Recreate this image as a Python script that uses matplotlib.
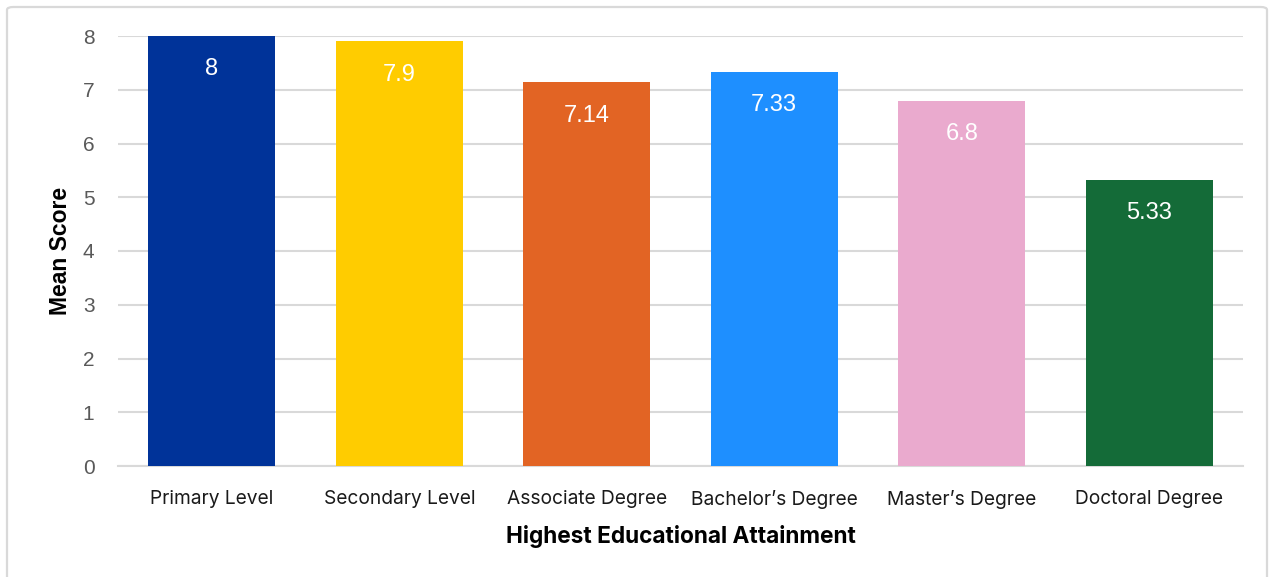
import matplotlib.pyplot as plt
from matplotlib.patches import FancyBboxPatch

# mean score by highest educational attainment
categories = ["Primary Level", "Secondary Level", "Associate Degree",
              "Bachelor\u2019s Degree", "Master\u2019s Degree", "Doctoral Degree"]
mean_scores = [8, 7.9, 7.14, 7.33, 6.8, 5.33]
score_labels = ["8", "7.9", "7.14", "7.33", "6.8", "5.33"]
bar_colors = ["#003399", "#FFCC00", "#E26424", "#1E8FFF", "#EAAACE", "#146B38"]
y_ticks = [0, 1, 2, 3, 4, 5, 6, 7, 8]

fig = plt.figure(figsize=(12.73, 5.77), dpi=100)

# light frame around the whole chart (bottom edge runs off the canvas)
frame = FancyBboxPatch((7 / 1273, -0.05), 1260 / 1273, 570 / 577 + 0.05,
                       boxstyle="round,pad=0,rounding_size=0.005",
                       transform=fig.transFigure, fill=False,
                       edgecolor="#D9D9D9", linewidth=1.6)
fig.patches.append(frame)

ax = fig.add_axes([118 / 1273, (577 - 466) / 577, 1125 / 1273, 430 / 577])

x = range(len(categories))
bars = ax.bar(x, mean_scores, width=0.677, color=bar_colors, zorder=3)

for b, lab in zip(bars, score_labels):
    ax.annotate(lab, xy=(b.get_x() + b.get_width() / 2, b.get_height()),
                xytext=(0, -24), textcoords="offset points",
                ha="center", va="center", color="white",
                fontsize=17, family="Liberation Sans", zorder=4)

ax.set_xlim(-0.5, 5.5)
ax.set_ylim(0, 8)
ax.set_yticks(y_ticks)
ax.set_yticklabels([str(t) for t in y_ticks], family="Liberation Sans",
                   fontsize=15, color="#595959")
ax.set_xticks(list(x))
ax.set_xticklabels(categories, family="Inter", fontsize=13.8, color="#1a1a1a")
ax.tick_params(axis="y", length=0, pad=17)
ax.tick_params(axis="x", length=0, pad=17)

ax.grid(axis="y", color="#D9D9D9", linewidth=1.5, zorder=0)
for s in ["top", "right", "left"]:
    ax.spines[s].set_visible(False)
ax.spines["bottom"].set_color("#D9D9D9")
ax.spines["bottom"].set_linewidth(1.5)

ax.set_ylabel("Mean Score", family="Liberation Sans", fontweight="bold",
              fontsize=16.5, color="black", labelpad=8)
ax.set_xlabel("Highest Educational Attainment", family="Inter", fontweight="bold",
              fontsize=16.3, color="black", labelpad=12)

fig.savefig("out.png", dpi=100)
